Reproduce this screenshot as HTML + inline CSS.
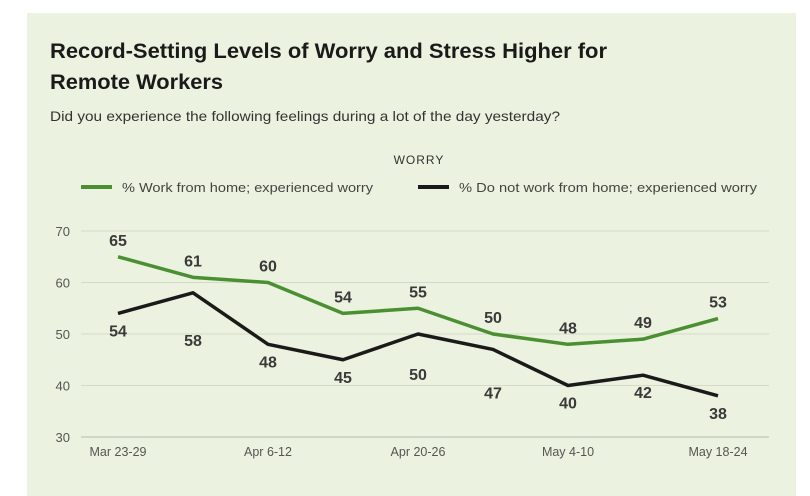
<!DOCTYPE html>
<html><head><meta charset="utf-8"><style>
body{margin:0;width:810px;height:496px;background:#fff;font-family:"Liberation Sans",sans-serif;overflow:hidden}
#panel{position:absolute;left:27px;top:13px;width:769px;height:483px;background:#ebf2df}
</style></head><body>
<div id="panel"></div>
<svg width="810" height="496" style="position:absolute;left:0;top:0">
<text x="50" y="58" font-size="21" font-weight="bold" fill="#1a1a1a" textLength="557" lengthAdjust="spacingAndGlyphs">Record-Setting Levels of Worry and Stress Higher for</text>
<text x="50" y="89" font-size="21" font-weight="bold" fill="#1a1a1a" textLength="173" lengthAdjust="spacingAndGlyphs">Remote Workers</text>
<text x="50" y="121" font-size="14" fill="#333" textLength="510" lengthAdjust="spacingAndGlyphs">Did you experience the following feelings during a lot of the day yesterday?</text>
<text x="419" y="164" font-size="12" fill="#333" text-anchor="middle" letter-spacing="1">WORRY</text>
<g><line x1="81" y1="187" x2="112" y2="187" stroke="#4a8f32" stroke-width="4"/><text x="122" y="192" font-size="13" fill="#444" textLength="251" lengthAdjust="spacingAndGlyphs">% Work from home; experienced worry</text></g>
<g><line x1="418" y1="187" x2="449" y2="187" stroke="#1a1a1a" stroke-width="4"/><text x="459" y="192" font-size="13" fill="#444" textLength="298" lengthAdjust="spacingAndGlyphs">% Do not work from home; experienced worry</text></g>
<g id="grid"></g><g id="lines"></g><g id="labels"></g>
</svg>
<script>
const categories=["Mar 23-29","","Apr 6-12","","Apr 20-26","","May 4-10","","May 18-24"];
const wfh=[65,61,60,54,55,50,48,49,53];
const notWfh=[54,58,48,45,50,47,40,42,38];
const yTicks=[30,40,50,60,70];
const notWfhLabelGap=[23,53,23,23,46,49,23,23,23];
const ns="http://www.w3.org/2000/svg";
const x=i=>118+i*75;
const y=v=>437-(v-30)*5.15;
function mk(t,a,p){const e=document.createElementNS(ns,t);for(const k in a)e.setAttribute(k,a[k]);document.getElementById(p).appendChild(e);return e;}
yTicks.forEach(v=>{
 const l=mk('line',{x1:81,x2:769,y1:y(v),y2:y(v),stroke:v===30?'#b5bcaa':'#d3dbc6','stroke-width':1},'grid');
 
 
 const t=mk('text',{x:70,y:y(v)+5,'font-size':13,fill:'#555','text-anchor':'end'},'grid');t.textContent=v;
 
 
});
categories.forEach((c,i)=>{if(!c)return;
 const t=mk('text',{x:x(i),y:456,'font-size':12.5,fill:'#555','text-anchor':'middle'},'grid');t.textContent=c;
 
 
});
[[notWfh,'#1a1a1a','not-wfh',1],[wfh,'#4a8f32','wfh',-1]].forEach(([d,col,n,dir])=>{
 const p=mk('polyline',{points:d.map((v,i)=>x(i)+','+y(v)).join(' '),fill:'none',stroke:col,'stroke-width':3.5,'stroke-linejoin':'round'},'lines');
 
 
 d.forEach((v,i)=>{
  const t=mk('text',{x:x(i),y:dir<0?y(v)-11:y(v)+notWfhLabelGap[i],'font-size':16,'font-weight':'bold',fill:'#3a3a3a','text-anchor':'middle'},'labels');
  t.textContent=v;
  
  
 });
});
</script>
</body></html>
